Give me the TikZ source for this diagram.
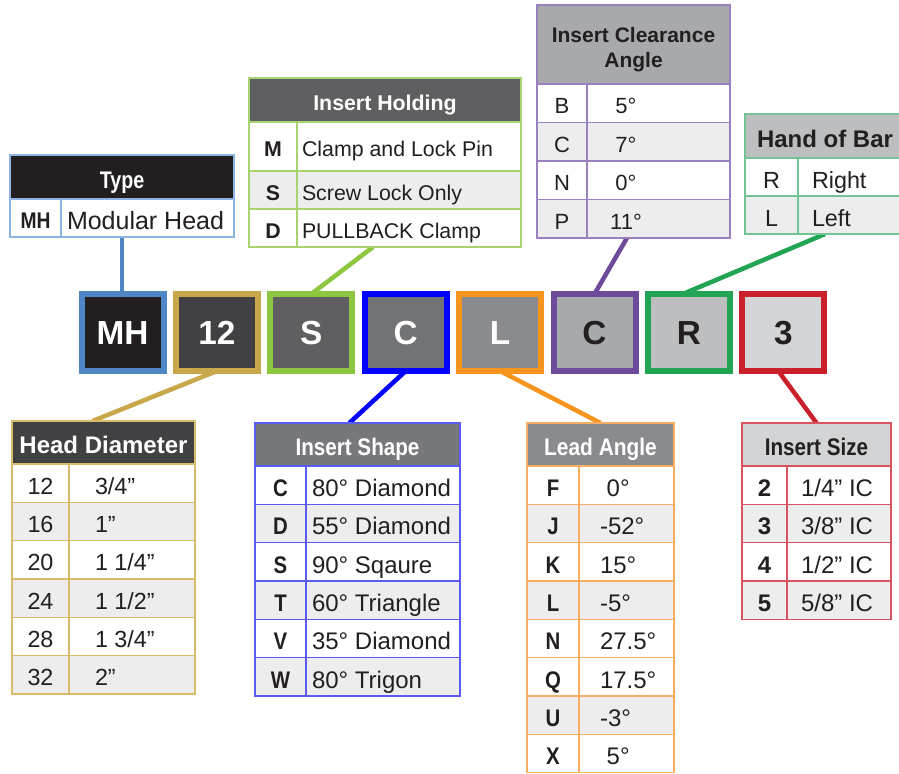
\documentclass[tikz,border=0pt]{standalone}
\usepackage{fontspec}
\usepackage{graphicx}
\setmainfont{Liberation Sans}
\usetikzlibrary{fit,calc}
\definecolor{c1}{HTML}{4F86C6}\definecolor{f1}{HTML}{231F20}\definecolor{t1}{HTML}{8DB3E2}
\definecolor{c2}{HTML}{C9A84C}\definecolor{f2}{HTML}{414042}\definecolor{t2}{HTML}{D8BC6A}
\definecolor{c3}{HTML}{8DC63F}\definecolor{f3}{HTML}{5F5F61}\definecolor{t3}{HTML}{A8D46F}
\definecolor{c4}{HTML}{0000FF}\definecolor{f4}{HTML}{77787B}\definecolor{t4}{HTML}{5A5AF5}
\definecolor{c5}{HTML}{F7941D}\definecolor{f5}{HTML}{8A8B8E}\definecolor{t5}{HTML}{F6AE63}
\definecolor{c6}{HTML}{6E4A9B}\definecolor{f6}{HTML}{A7A9AC}\definecolor{t6}{HTML}{9B80C0}
\definecolor{c7}{HTML}{22A455}\definecolor{f7}{HTML}{BCBEC0}\definecolor{t7}{HTML}{72C495}
\definecolor{c8}{HTML}{C9202C}\definecolor{f8}{HTML}{D3D4D6}\definecolor{t8}{HTML}{D9545E}
\definecolor{bc}{HTML}{727376}
\definecolor{rowgray}{HTML}{EDEDED}\definecolor{ink}{HTML}{231F20}
\pgfdeclarelayer{bg}\pgfsetlayers{bg,main}
\newcommand\cond[1]{\scalebox{0.85}[1]{#1}}
% x1, divider, x2, key x, value x, value anchor, border colour
\newcommand\settable[7]{\def\tA{#1}\def\tD{#2}\def\tB{#3}\def\tK{#4}\def\tV{#5}\def\tVA{#6}\def\tC{#7}}
% key size, key bold?, value size
\newcommand\setfonts[3]{%
  \def\kfont{\fontsize{#1}{#1}\selectfont#2}\def\vfont{\fontsize{#3}{#3}\selectfont}%
  \pgfmathsetmacro\kcap{0.716*#1}\pgfmathsetmacro\vcap{0.716*#3}}
\newcommand\trow[6]{%
  \fill[#4] (\tA,#2) rectangle (\tB,#3);
  \draw[\tC, cellline] (\tA,#2) -- (\tB,#2) (\tA,#3) -- (\tB,#3) (\tD,#2) -- (\tD,#3);
  \node[ctxt, font=\kfont, text height=\kcap pt] (#1k) at (\tK,{(#2+#3)/2}) {#5};
  \node[ctxt, font=\vfont, text height=\vcap pt, anchor=\tVA] (#1v) at (\tV,{(#2+#3)/2}) {#6};
}
\newcommand\headr[7]{%
  \fill[#4] (\tA,#2) rectangle (\tB,#3);
  \pgfmathsetmacro\hcap{0.716*#6}%
  \node[ctxt, text=#5, font=\fontsize{#6}{#6}\selectfont\bfseries, text height=\hcap pt]
    (#1) at ({(\tA+\tB)/2},{(#2+#3)/2}) {#7};
}
\newcommand\tframe[3]{\node[frame=\tC, fit={(\tA,#2) (\tB,#3)}] (#1) {};}
\tikzset{
  ctxt/.style={inner sep=0pt, outer sep=0pt, text depth=0pt, text=ink, yshift=-2pt},
  cellline/.style={line width=1pt},
  frame/.style={draw=#1, line width=1pt, inner sep=0pt, outer sep=0pt},
  codebox/.style={draw=#1, line width=4.5pt, minimum width=61.5pt, minimum height=57.75pt,
    inner sep=0pt, outer sep=0pt, text height=17.5pt, text depth=0pt,
    font=\fontsize{25}{30}\selectfont\bfseries},
  link/.style={draw=#1, line width=3.4pt}
}
\begin{document}
\begin{tikzpicture}[x=0.75pt, y=-0.75pt]
\useasboundingbox (0,0) rectangle (899,774);
\clip (0,0) rectangle (899,774);

% ---------- Type ----------
\settable{10}{61}{234}{35.5}{67}{west}{t1}
\setfonts{17}{\bfseries}{18.75}
\headr{typeH}{155}{199}{f1}{white}{18}{\scalebox{0.82}[1]{Type}}
\trow{typeA}{199}{237}{white}{\cond{MH}}{Modular Head}
\tframe{typeT}{155}{237}

% ---------- Insert Holding ----------
\settable{249}{297}{521}{273}{302}{west}{t3}
\setfonts{16}{\bfseries}{16}
\headr{holdH}{78}{122}{f3}{white}{16}{Insert Holding}
\trow{holdA}{122}{171}{white}{M}{Clamp and Lock Pin}
\trow{holdB}{171}{209}{rowgray}{S}{Screw Lock Only}
\trow{holdC}{209}{247}{white}{D}{PULLBACK Clamp}
\tframe{holdT}{78}{247}

% ---------- Insert Clearance Angle ----------
\settable{537}{587}{730}{562}{626}{center}{t6}
\setfonts{16.5}{}{16.5}
\fill[f6] (\tA,5) rectangle (\tB,84);
\node[inner sep=0pt, align=center, text=ink, font=\fontsize{15.75}{19}\selectfont\bfseries] (clrH) at (633.5,49.5) {Insert Clearance\\Angle};
\trow{clrA}{84}{122.5}{white}{B}{5°}
\trow{clrB}{122.5}{161}{rowgray}{C}{7°}
\trow{clrC}{161}{199.5}{white}{N}{0°}
\trow{clrD}{199.5}{238}{rowgray}{P}{11°}
\tframe{clrT}{5}{238}

% ---------- Hand of Bar ----------
\settable{745}{798}{905}{771.5}{812}{west}{t7}
\setfonts{17.5}{}{17.5}
\headr{handH}{114}{158}{f7}{ink}{18}{Hand of Bar}
\trow{handA}{158}{196}{white}{R}{Right}
\trow{handB}{196}{234}{rowgray}{L}{Left}
\tframe{handT}{114}{234}

% ---------- Head Diameter ----------
\settable{12}{69}{195}{40.5}{95}{west}{t2}
\setfonts{17.5}{}{17.5}
\headr{hdH}{421}{464}{f2}{white}{18}{Head Diameter}
\trow{hdA}{464}{502.3}{white}{12}{3/4”}
\trow{hdB}{502.3}{540.7}{rowgray}{16}{1”}
\trow{hdC}{540.7}{579}{white}{20}{1 1/4”}
\trow{hdD}{579}{617.3}{rowgray}{24}{1 1/2”}
\trow{hdE}{617.3}{655.7}{white}{28}{1 3/4”}
\trow{hdF}{655.7}{694}{rowgray}{32}{2”}
\tframe{hdT}{421}{694}

% ---------- Insert Shape ----------
\settable{255}{306}{460}{280.5}{312}{west}{t4}
\setfonts{18}{\bfseries}{18}
\headr{shpH}{423}{466}{f4}{white}{18}{\scalebox{0.86}[1]{Insert Shape}}
\trow{shpA}{466}{504.3}{white}{\cond{C}}{80° Diamond}
\trow{shpB}{504.3}{542.7}{rowgray}{\cond{D}}{55° Diamond}
\trow{shpC}{542.7}{581}{white}{\cond{S}}{90° Sqaure}
\trow{shpD}{581}{619.3}{rowgray}{\cond{T}}{60° Triangle}
\trow{shpE}{619.3}{657.7}{white}{\cond{V}}{35° Diamond}
\trow{shpF}{657.7}{696}{rowgray}{\cond{W}}{80° Trigon}
\tframe{shpT}{423}{696}

% ---------- Lead Angle ----------
\settable{527}{579}{674}{553}{600}{west}{t5}
\setfonts{18}{\bfseries}{18}
\headr{leadHd}{423}{466}{f5}{white}{18}{\scalebox{0.87}[1]{Lead Angle}}
\trow{leadA}{466}{504.3}{white}{\cond{F}}{\hspace*{5pt}0°}
\trow{leadB}{504.3}{542.7}{rowgray}{\cond{J}}{-52°}
\trow{leadC}{542.7}{581}{white}{\cond{K}}{15°}
\trow{leadD}{581}{619.3}{rowgray}{\cond{L}}{-5°}
\trow{leadE}{619.3}{657.7}{white}{\cond{N}}{27.5°}
\trow{leadF}{657.7}{696}{white}{\cond{Q}}{17.5°}
\trow{leadG}{696}{734.3}{rowgray}{\cond{U}}{-3°}
\trow{leadH}{734.3}{772.7}{white}{\cond{X}}{\hspace*{5pt}5°}
\tframe{leadT}{423}{772.7}

% ---------- Insert Size ----------
\settable{742}{787}{891}{764.5}{837}{center}{t8}
\setfonts{18}{\bfseries}{18}
\headr{sizeH}{423}{466}{f8}{ink}{18}{\scalebox{0.86}[1]{Insert Size}}
\trow{sizeA}{466}{504.3}{white}{2}{1/4” IC}
\trow{sizeB}{504.3}{542.7}{rowgray}{3}{3/8” IC}
\trow{sizeC}{542.7}{581}{white}{4}{1/2” IC}
\trow{sizeD}{581}{619.3}{rowgray}{5}{5/8” IC}
\tframe{sizeT}{423}{619.3}

% ---------- code boxes ----------
\node[codebox=c1, fill=f1, text=white] (bMH) at (122.5,332.5) {MH};
\node[codebox=c2, fill=f2, text=white] (b12) at (216.9,332.5) {12};
\node[codebox=c3, fill=f3, text=white] (bS)  at (311.3,332.5) {S};
\node[codebox=c4, fill=bc, text=white] (bC)  at (405.7,332.5) {C};
\node[codebox=c5, fill=f5, text=white] (bL)  at (500.1,332.5) {L};
\node[codebox=c6, fill=f6, text=ink]   (bC2) at (594.5,332.5) {C};
\node[codebox=c7, fill=f7, text=ink]   (bR)  at (688.9,332.5) {R};
\node[codebox=c8, fill=f8, text=ink]   (b3)  at (783.3,332.5) {3};

% ---------- connectors ----------
\begin{pgfonlayer}{bg}
\fill[white] (0,0) rectangle (899,774);
\draw[link=c1] (typeT.south) -- (typeT.south |- bMH.north);
\draw[link=c3] ($(holdT.south west)!0.456!(holdT.south east)$) -- (bS.north);
\draw[link=c6] ($(clrT.south west)!0.466!(clrT.south east)$) -- (bC2.north);
\draw[link=c7] ($(handT.south west)!0.5!(handT.south east)$) -- ($(bR.north)+(-6,0)$);
\draw[link=c2] (b12.south) -- ($(hdT.north west)!0.44!(hdT.north east)$);
\draw[link=c4] (bC.south) -- ($(shpT.north west)!0.46!(shpT.north east)$);
\draw[link=c5] (bL.south) -- (leadT.north);
\draw[link=c8] ($(b3.south)+(-5,0)$) -- (sizeT.north);
\end{pgfonlayer}
\end{tikzpicture}
\end{document}
